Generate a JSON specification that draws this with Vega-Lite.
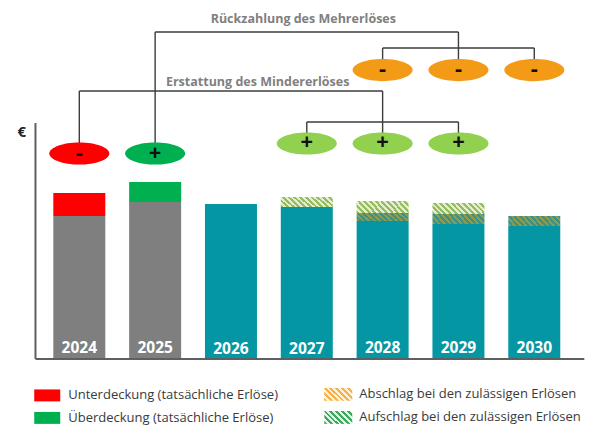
{
  "$schema": "https://vega.github.io/schema/vega-lite/v6.json",
  "width": 590,
  "height": 430,
  "padding": 0,
  "autosize": {"type": "fit", "contains": "padding"},
  "background": "white",
  "config": {"view": {"stroke": null}, "font": "Open Sans"},
  "datasets": {
    "bars": [
      {"year": 2024, "segment": "Tatsächliche Erlöse", "value": 0, "value2": 92.2},
      {"year": 2024, "segment": "Unterdeckung", "value": 92.2, "value2": 107.1},
      {"year": 2025, "segment": "Tatsächliche Erlöse", "value": 0, "value2": 101.3},
      {"year": 2025, "segment": "Überdeckung", "value": 101.3, "value2": 114.3},
      {"year": 2026, "segment": "Zulässige Erlöse", "value": 0, "value2": 100},
      {"year": 2027, "segment": "Zulässige Erlöse", "value": 0, "value2": 98.1},
      {"year": 2027, "segment": "Aufschlag", "value": 98.1, "value2": 104.6},
      {"year": 2028, "segment": "Zulässige Erlöse", "value": 0, "value2": 89.0},
      {"year": 2028, "segment": "Abschlag", "value": 89.0, "value2": 94.2},
      {"year": 2028, "segment": "Aufschlag", "value": 94.2, "value2": 102.0},
      {"year": 2029, "segment": "Zulässige Erlöse", "value": 0, "value2": 87.0},
      {"year": 2029, "segment": "Abschlag", "value": 87.0, "value2": 93.5},
      {"year": 2029, "segment": "Aufschlag", "value": 93.5, "value2": 100.7},
      {"year": 2030, "segment": "Zulässige Erlöse", "value": 0, "value2": 85.7},
      {"year": 2030, "segment": "Abschlag", "value": 85.7, "value2": 92.2}
    ],
    "years": [
      {"year": 2024, "value": 6.5, "label": "2024"},
      {"year": 2025, "value": 6.5, "label": "2025"},
      {"year": 2026, "value": 6.0, "label": "2026"},
      {"year": 2027, "value": 6.0, "label": "2027"},
      {"year": 2028, "value": 6.5, "label": "2028"},
      {"year": 2029, "value": 6.5, "label": "2029"},
      {"year": 2030, "value": 6.5, "label": "2030"}
    ],
    "ovals": [
      {"year": 2024, "value": 132.8, "kind": "Unterdeckung", "sign": "-"},
      {"year": 2025, "value": 132.8, "kind": "Überdeckung", "sign": "+"},
      {"year": 2027, "value": 139.3, "kind": "Aufschlag", "sign": "+"},
      {"year": 2028, "value": 139.3, "kind": "Aufschlag", "sign": "+"},
      {"year": 2029, "value": 139.3, "kind": "Aufschlag", "sign": "+"},
      {"year": 2028, "value": 187.0, "kind": "Abschlag", "sign": "-"},
      {"year": 2029, "value": 187.0, "kind": "Abschlag", "sign": "-"},
      {"year": 2030, "value": 187.0, "kind": "Abschlag", "sign": "-"}
    ],
    "links": [
      {"year": 2025, "year2": 2025, "value": 132.8, "value2": 211.7},
      {"year": 2025, "year2": 2029, "value": 211.7, "value2": 211.7},
      {"year": 2029, "year2": 2029, "value": 211.7, "value2": 187.0},
      {"year": 2028, "year2": 2030, "value": 201.3, "value2": 201.3},
      {"year": 2028, "year2": 2028, "value": 201.3, "value2": 187.0},
      {"year": 2030, "year2": 2030, "value": 201.3, "value2": 187.0},
      {"year": 2024, "year2": 2024, "value": 132.8, "value2": 173.4},
      {"year": 2024, "year2": 2028, "value": 173.4, "value2": 173.4},
      {"year": 2028, "year2": 2028, "value": 173.4, "value2": 139.3},
      {"year": 2027, "year2": 2029, "value": 153.3, "value2": 153.3},
      {"year": 2027, "year2": 2027, "value": 153.3, "value2": 139.3},
      {"year": 2029, "year2": 2029, "value": 153.3, "value2": 139.3}
    ],
    "axes": [
      {"year": 2023.422, "year2": 2023.422, "value": -0.6, "value2": 152.6},
      {"year": 2023.422, "year2": 2030.66, "value": -0.6, "value2": -0.6}
    ],
    "titles": [
      {"year": 2026.954, "value": 220.1, "label": "Rückzahlung des Mehrerlöses"},
      {"year": 2026.352, "value": 179.2, "label": "Erstattung des Mindererlöses"}
    ],
    "unit": [
      {"year": 2023.24, "value": 146.8, "label": "€"}
    ],
    "legend": [
      {"kind": "Unterdeckung", "year": 2023.577, "value": -24.3, "label": "Unterdeckung (tatsächliche Erlöse)"},
      {"kind": "Überdeckung", "year": 2023.577, "value": -38.9, "label": "Überdeckung (tatsächliche Erlöse)"},
      {"kind": "Abschlag", "year": 2027.415, "value": -23.6, "label": "Abschlag bei den zulässigen Erlösen"},
      {"kind": "Aufschlag", "year": 2027.415, "value": -38.6, "label": "Aufschlag bei den zulässigen Erlösen"}
    ]
  },
  "encoding": {
    "x": {"field": "year", "type": "quantitative", "scale": {"domain": [2023.02, 2030.669], "nice": false, "zero": false}, "axis": null},
    "y": {"field": "value", "type": "quantitative", "scale": {"domain": [-46.76, 232.49], "nice": false, "zero": false}, "axis": null}
  },
  "layer": [
    {
      "data": {"name": "axes"},
      "mark": {"type": "rule", "color": "#5f5f5f", "strokeWidth": 2},
      "encoding": {"x2": {"field": "year2"}, "y2": {"field": "value2"}}
    },
    {
      "data": {"name": "links"},
      "mark": {"type": "rule", "color": "#3c3c3c", "strokeWidth": 1.4},
      "encoding": {"x2": {"field": "year2"}, "y2": {"field": "value2"}}
    },
    {
      "data": {"name": "bars"},
      "transform": [{"filter": "datum.segment !== 'Aufschlag' && datum.segment !== 'Abschlag'"}],
      "mark": {"type": "bar", "width": 52, "orient": "vertical"},
      "encoding": {
        "y2": {"field": "value2"},
        "color": {"field": "segment", "type": "nominal", "legend": null,
          "scale": {"domain": ["Tatsächliche Erlöse", "Zulässige Erlöse", "Unterdeckung", "Überdeckung", "Aufschlag", "Abschlag"],
                    "range": ["#7f7f7f", "#0497a3", "#ff0000", "#00b050", "#92d050", "#f39b17"]}}
      }
    },
    {
      "data": {"name": "bars"},
      "transform": [{"filter": "datum.segment === 'Aufschlag'"}],
      "mark": {"type": "bar", "width": 52, "orient": "vertical",
        "color": {"gradient": "linear", "x1": 0, "y1": 1, "x2": 1.16, "y2": 0.755, "stops": [
          {"offset": 0, "color": "#93bd5e"}, {"offset": 0.0455, "color": "#93bd5e"}, {"offset": 0.0455, "color": "#e4edcf"}, {"offset": 0.0909, "color": "#e4edcf"},
          {"offset": 0.0909, "color": "#93bd5e"}, {"offset": 0.1364, "color": "#93bd5e"}, {"offset": 0.1364, "color": "#e4edcf"}, {"offset": 0.1818, "color": "#e4edcf"},
          {"offset": 0.1818, "color": "#93bd5e"}, {"offset": 0.2273, "color": "#93bd5e"}, {"offset": 0.2273, "color": "#e4edcf"}, {"offset": 0.2727, "color": "#e4edcf"},
          {"offset": 0.2727, "color": "#93bd5e"}, {"offset": 0.3182, "color": "#93bd5e"}, {"offset": 0.3182, "color": "#e4edcf"}, {"offset": 0.3636, "color": "#e4edcf"},
          {"offset": 0.3636, "color": "#93bd5e"}, {"offset": 0.4091, "color": "#93bd5e"}, {"offset": 0.4091, "color": "#e4edcf"}, {"offset": 0.4545, "color": "#e4edcf"},
          {"offset": 0.4545, "color": "#93bd5e"}, {"offset": 0.5, "color": "#93bd5e"}, {"offset": 0.5, "color": "#e4edcf"}, {"offset": 0.5455, "color": "#e4edcf"},
          {"offset": 0.5455, "color": "#93bd5e"}, {"offset": 0.5909, "color": "#93bd5e"}, {"offset": 0.5909, "color": "#e4edcf"}, {"offset": 0.6364, "color": "#e4edcf"},
          {"offset": 0.6364, "color": "#93bd5e"}, {"offset": 0.6818, "color": "#93bd5e"}, {"offset": 0.6818, "color": "#e4edcf"}, {"offset": 0.7273, "color": "#e4edcf"},
          {"offset": 0.7273, "color": "#93bd5e"}, {"offset": 0.7727, "color": "#93bd5e"}, {"offset": 0.7727, "color": "#e4edcf"}, {"offset": 0.8182, "color": "#e4edcf"},
          {"offset": 0.8182, "color": "#93bd5e"}, {"offset": 0.8636, "color": "#93bd5e"}, {"offset": 0.8636, "color": "#e4edcf"}, {"offset": 0.9091, "color": "#e4edcf"},
          {"offset": 0.9091, "color": "#93bd5e"}, {"offset": 0.9545, "color": "#93bd5e"}, {"offset": 0.9545, "color": "#e4edcf"}, {"offset": 1, "color": "#e4edcf"}
        ]}},
      "encoding": {"y2": {"field": "value2"}}
    },
    {
      "data": {"name": "bars"},
      "transform": [{"filter": "datum.segment === 'Abschlag'"}],
      "mark": {"type": "bar", "width": 52, "orient": "vertical",
        "color": {"gradient": "linear", "x1": 0, "y1": 1, "x2": 1.139, "y2": 0.803, "stops": [
          {"offset": 0, "color": "#8f9c4f"}, {"offset": 0.0455, "color": "#8f9c4f"}, {"offset": 0.0455, "color": "#3d9182"}, {"offset": 0.0909, "color": "#3d9182"},
          {"offset": 0.0909, "color": "#8f9c4f"}, {"offset": 0.1364, "color": "#8f9c4f"}, {"offset": 0.1364, "color": "#3d9182"}, {"offset": 0.1818, "color": "#3d9182"},
          {"offset": 0.1818, "color": "#8f9c4f"}, {"offset": 0.2273, "color": "#8f9c4f"}, {"offset": 0.2273, "color": "#3d9182"}, {"offset": 0.2727, "color": "#3d9182"},
          {"offset": 0.2727, "color": "#8f9c4f"}, {"offset": 0.3182, "color": "#8f9c4f"}, {"offset": 0.3182, "color": "#3d9182"}, {"offset": 0.3636, "color": "#3d9182"},
          {"offset": 0.3636, "color": "#8f9c4f"}, {"offset": 0.4091, "color": "#8f9c4f"}, {"offset": 0.4091, "color": "#3d9182"}, {"offset": 0.4545, "color": "#3d9182"},
          {"offset": 0.4545, "color": "#8f9c4f"}, {"offset": 0.5, "color": "#8f9c4f"}, {"offset": 0.5, "color": "#3d9182"}, {"offset": 0.5455, "color": "#3d9182"},
          {"offset": 0.5455, "color": "#8f9c4f"}, {"offset": 0.5909, "color": "#8f9c4f"}, {"offset": 0.5909, "color": "#3d9182"}, {"offset": 0.6364, "color": "#3d9182"},
          {"offset": 0.6364, "color": "#8f9c4f"}, {"offset": 0.6818, "color": "#8f9c4f"}, {"offset": 0.6818, "color": "#3d9182"}, {"offset": 0.7273, "color": "#3d9182"},
          {"offset": 0.7273, "color": "#8f9c4f"}, {"offset": 0.7727, "color": "#8f9c4f"}, {"offset": 0.7727, "color": "#3d9182"}, {"offset": 0.8182, "color": "#3d9182"},
          {"offset": 0.8182, "color": "#8f9c4f"}, {"offset": 0.8636, "color": "#8f9c4f"}, {"offset": 0.8636, "color": "#3d9182"}, {"offset": 0.9091, "color": "#3d9182"},
          {"offset": 0.9091, "color": "#8f9c4f"}, {"offset": 0.9545, "color": "#8f9c4f"}, {"offset": 0.9545, "color": "#3d9182"}, {"offset": 1, "color": "#3d9182"}
        ]}},
      "encoding": {"y2": {"field": "value2"}}
    },
    {
      "data": {"name": "years"},
      "mark": {"type": "text", "color": "white", "fontWeight": "bold", "fontSize": 15.5, "baseline": "middle", "align": "center"},
      "encoding": {"text": {"field": "label"}}
    },
    {
      "data": {"name": "ovals"},
      "mark": {"type": "point", "filled": true, "opacity": 1, "size": 3600, "shape": "M-1,0A1,0.37,0,1,0,1,0A1,0.37,0,1,0,-1,0Z"},
      "encoding": {
        "color": {"field": "kind", "type": "nominal", "legend": null,
          "scale": {"domain": ["Tatsächliche Erlöse", "Zulässige Erlöse", "Unterdeckung", "Überdeckung", "Aufschlag", "Abschlag"],
                    "range": ["#7f7f7f", "#0497a3", "#ff0000", "#00b050", "#92d050", "#f39b17"]}}
      }
    },
    {
      "data": {"name": "ovals"},
      "mark": {"type": "text", "color": "#111111", "fontWeight": "bold", "fontSize": 22, "baseline": "middle", "align": "center", "dy": -1},
      "encoding": {"text": {"field": "sign"}}
    },
    {
      "data": {"name": "titles"},
      "mark": {"type": "text", "color": "#808080", "fontWeight": "bold", "fontSize": 12.5, "baseline": "middle", "align": "center"},
      "encoding": {"text": {"field": "label"}}
    },
    {
      "data": {"name": "unit"},
      "mark": {"type": "text", "color": "#222222", "fontWeight": "bold", "fontSize": 15, "baseline": "middle", "align": "center"},
      "encoding": {"text": {"field": "label"}}
    },
    {
      "data": {"name": "legend"},
      "transform": [{"filter": "datum.kind === 'Unterdeckung' || datum.kind === 'Überdeckung'"}],
      "mark": {"type": "point", "filled": true, "opacity": 1, "size": 676, "shape": "M-1,-0.46L1,-0.46L1,0.46L-1,0.46Z"},
      "encoding": {
        "color": {"field": "kind", "type": "nominal", "legend": null,
          "scale": {"domain": ["Tatsächliche Erlöse", "Zulässige Erlöse", "Unterdeckung", "Überdeckung", "Aufschlag", "Abschlag"],
                    "range": ["#7f7f7f", "#0497a3", "#ff0000", "#00b050", "#92d050", "#f39b17"]}}
      }
    },
    {
      "data": {"name": "legend"},
      "transform": [{"filter": "datum.kind === 'Abschlag'"}],
      "mark": {"type": "point", "filled": true, "opacity": 1, "size": 784, "shape": "M-1,-0.46L1,-0.46L1,0.46L-1,0.46Z",
        "fill": {"gradient": "linear", "x1": 0, "y1": 1, "x2": 1.205, "y2": 0.441, "stops": [
          {"offset": 0, "color": "#f5b24a"}, {"offset": 0.0714, "color": "#f5b24a"}, {"offset": 0.0714, "color": "#fdf1da"}, {"offset": 0.1429, "color": "#fdf1da"},
          {"offset": 0.1429, "color": "#f5b24a"}, {"offset": 0.2143, "color": "#f5b24a"}, {"offset": 0.2143, "color": "#fdf1da"}, {"offset": 0.2857, "color": "#fdf1da"},
          {"offset": 0.2857, "color": "#f5b24a"}, {"offset": 0.3571, "color": "#f5b24a"}, {"offset": 0.3571, "color": "#fdf1da"}, {"offset": 0.4286, "color": "#fdf1da"},
          {"offset": 0.4286, "color": "#f5b24a"}, {"offset": 0.5, "color": "#f5b24a"}, {"offset": 0.5, "color": "#fdf1da"}, {"offset": 0.5714, "color": "#fdf1da"},
          {"offset": 0.5714, "color": "#f5b24a"}, {"offset": 0.6429, "color": "#f5b24a"}, {"offset": 0.6429, "color": "#fdf1da"}, {"offset": 0.7143, "color": "#fdf1da"},
          {"offset": 0.7143, "color": "#f5b24a"}, {"offset": 0.7857, "color": "#f5b24a"}, {"offset": 0.7857, "color": "#fdf1da"}, {"offset": 0.8571, "color": "#fdf1da"},
          {"offset": 0.8571, "color": "#f5b24a"}, {"offset": 0.9286, "color": "#f5b24a"}, {"offset": 0.9286, "color": "#fdf1da"}, {"offset": 1, "color": "#fdf1da"}
        ]}},
      "encoding": {}
    },
    {
      "data": {"name": "legend"},
      "transform": [{"filter": "datum.kind === 'Aufschlag'"}],
      "mark": {"type": "point", "filled": true, "opacity": 1, "size": 784, "shape": "M-1,-0.46L1,-0.46L1,0.46L-1,0.46Z",
        "fill": {"gradient": "linear", "x1": 0, "y1": 1, "x2": 1.205, "y2": 0.441, "stops": [
          {"offset": 0, "color": "#3ea85c"}, {"offset": 0.0714, "color": "#3ea85c"}, {"offset": 0.0714, "color": "#e4f3e7"}, {"offset": 0.1429, "color": "#e4f3e7"},
          {"offset": 0.1429, "color": "#3ea85c"}, {"offset": 0.2143, "color": "#3ea85c"}, {"offset": 0.2143, "color": "#e4f3e7"}, {"offset": 0.2857, "color": "#e4f3e7"},
          {"offset": 0.2857, "color": "#3ea85c"}, {"offset": 0.3571, "color": "#3ea85c"}, {"offset": 0.3571, "color": "#e4f3e7"}, {"offset": 0.4286, "color": "#e4f3e7"},
          {"offset": 0.4286, "color": "#3ea85c"}, {"offset": 0.5, "color": "#3ea85c"}, {"offset": 0.5, "color": "#e4f3e7"}, {"offset": 0.5714, "color": "#e4f3e7"},
          {"offset": 0.5714, "color": "#3ea85c"}, {"offset": 0.6429, "color": "#3ea85c"}, {"offset": 0.6429, "color": "#e4f3e7"}, {"offset": 0.7143, "color": "#e4f3e7"},
          {"offset": 0.7143, "color": "#3ea85c"}, {"offset": 0.7857, "color": "#3ea85c"}, {"offset": 0.7857, "color": "#e4f3e7"}, {"offset": 0.8571, "color": "#e4f3e7"},
          {"offset": 0.8571, "color": "#3ea85c"}, {"offset": 0.9286, "color": "#3ea85c"}, {"offset": 0.9286, "color": "#e4f3e7"}, {"offset": 1, "color": "#e4f3e7"}
        ]}},
      "encoding": {}
    },
    {
      "data": {"name": "legend"},
      "mark": {"type": "text", "color": "#3a3a3a", "fontSize": 13, "baseline": "middle", "align": "left", "dx": 21},
      "encoding": {"text": {"field": "label"}}
    }
  ]
}
